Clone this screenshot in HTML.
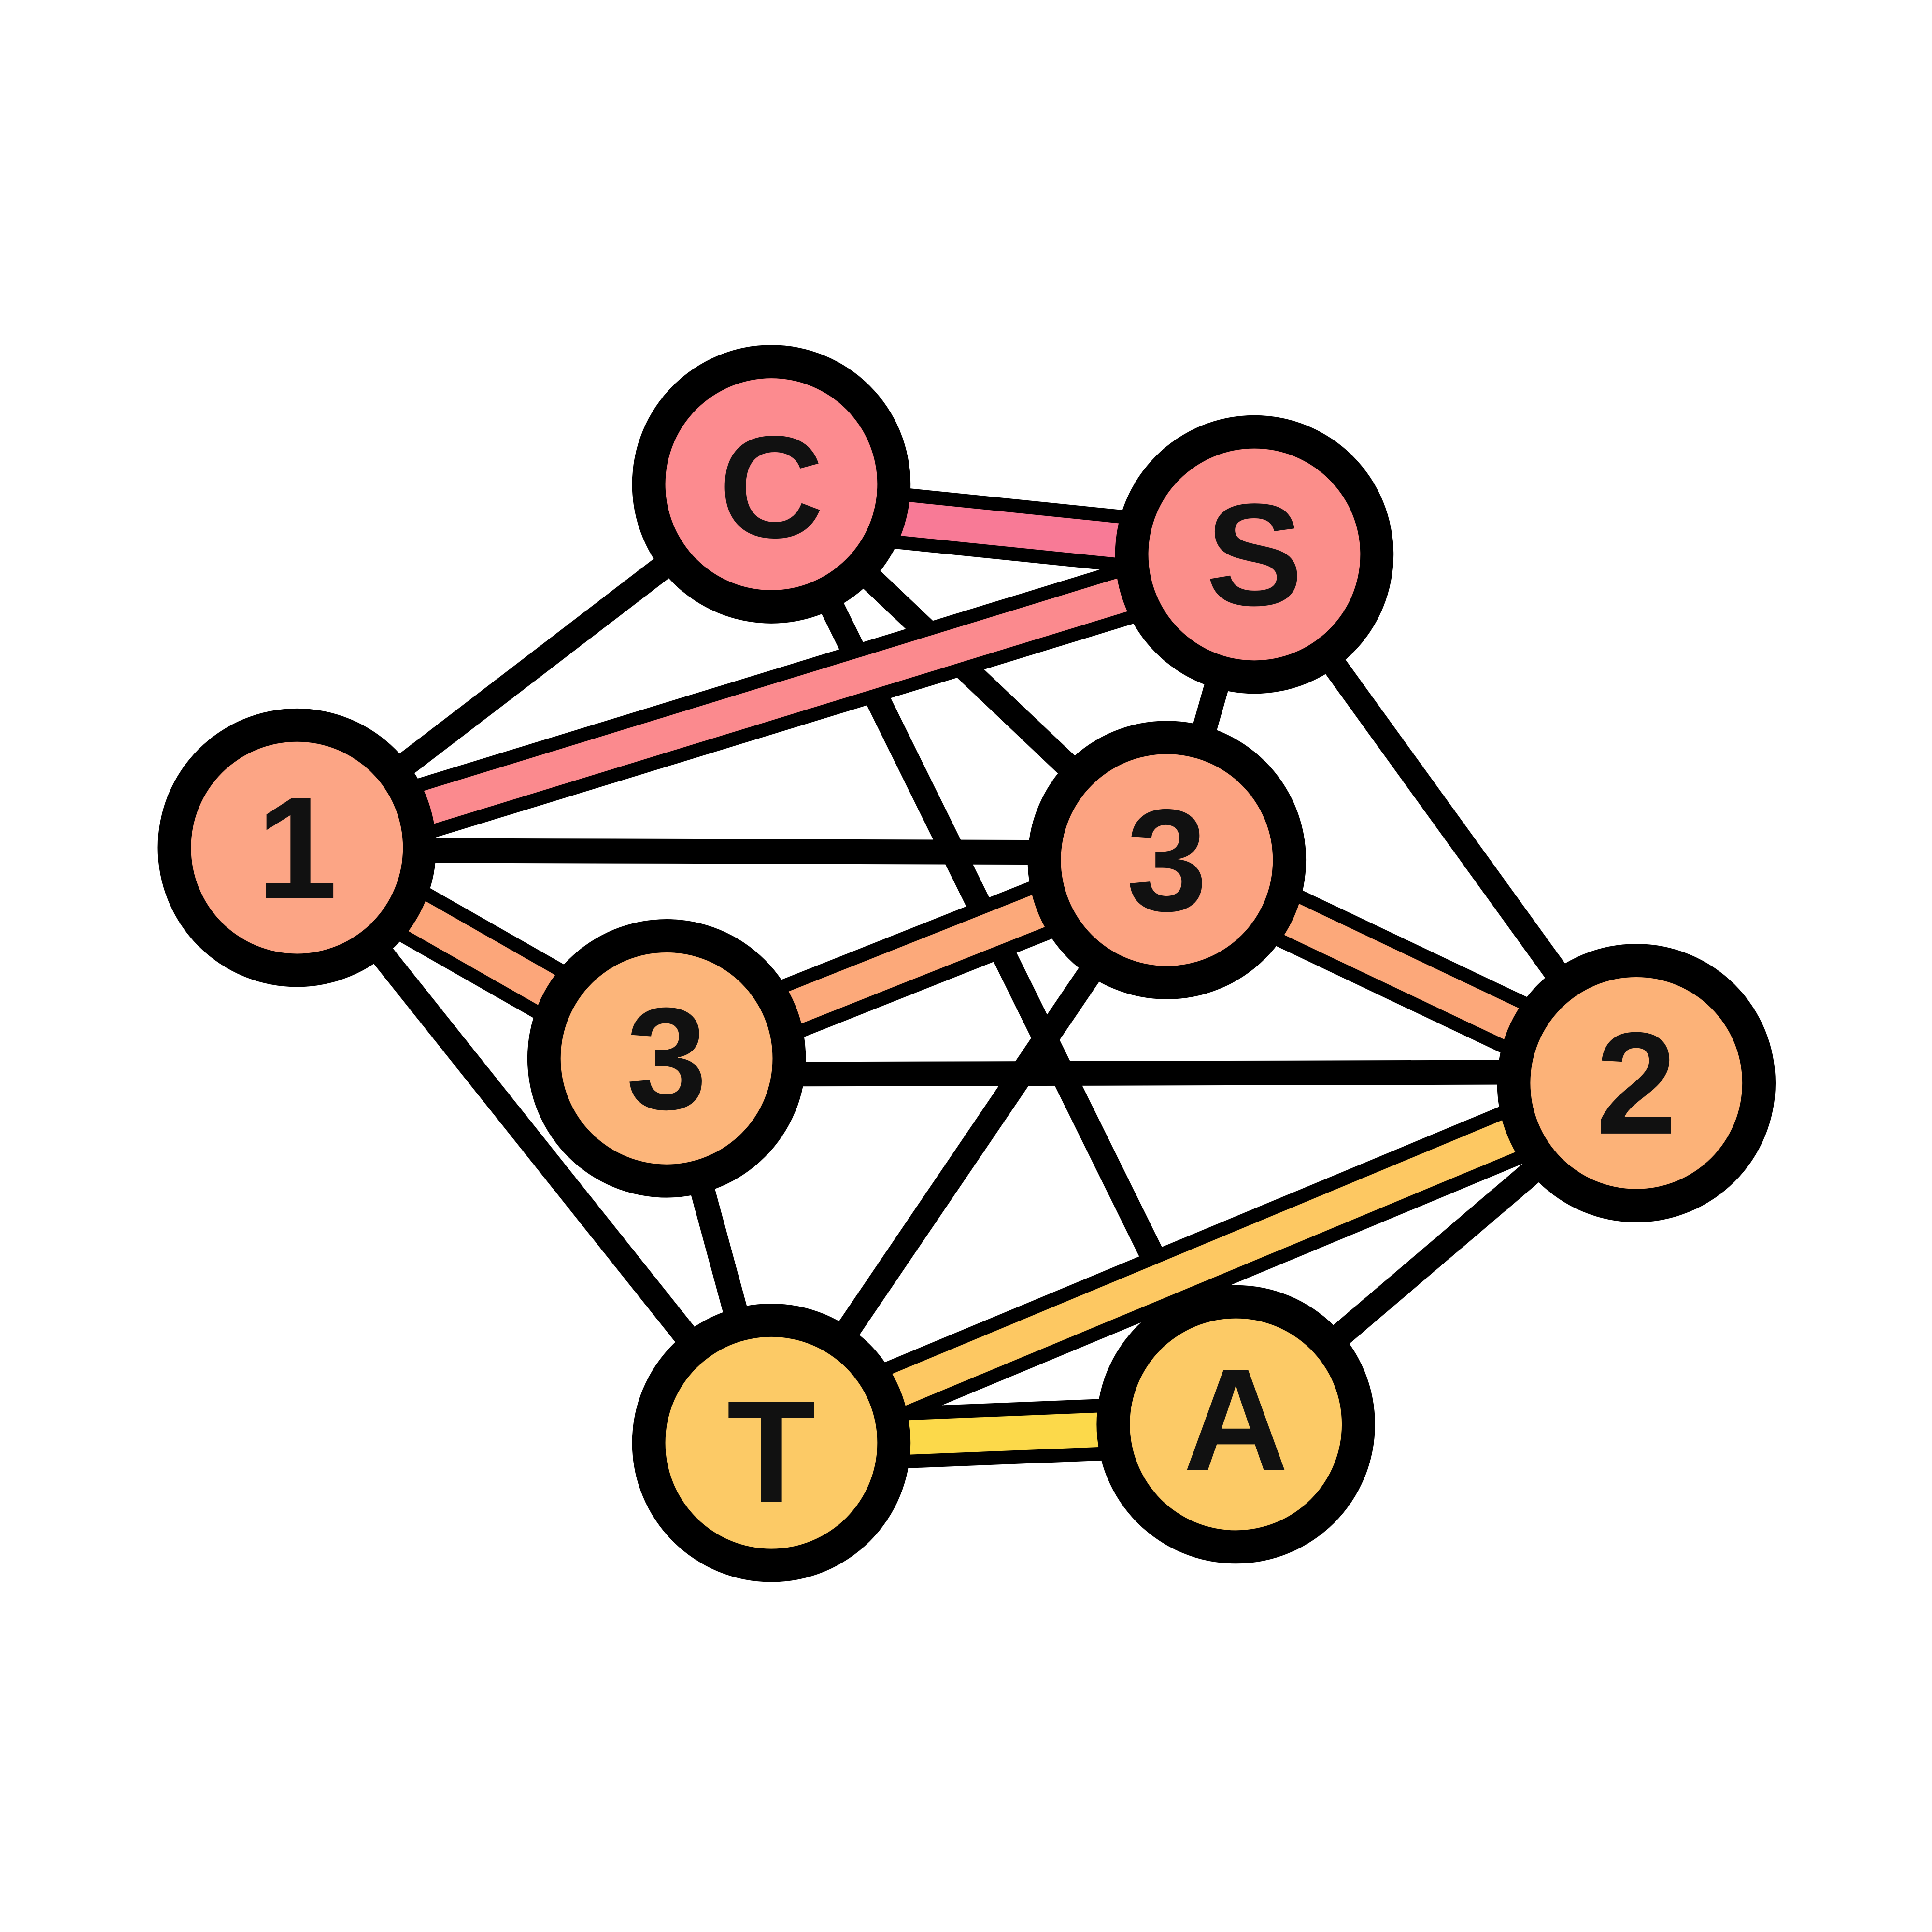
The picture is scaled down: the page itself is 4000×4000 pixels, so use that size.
<!DOCTYPE html>
<html><head><meta charset="utf-8"><style>
html,body{margin:0;padding:0;background:#fff;}
svg{display:block;}
text{font-family:"Liberation Sans",sans-serif;font-size:118px;font-weight:bold;fill:#111;text-anchor:middle;dominant-baseline:central;}
</style></head><body>
<svg width="4000" height="4000" viewBox="0 0 1568 1568" xmlns="http://www.w3.org/2000/svg">
<rect width="1568" height="1568" fill="#fff"/>
<g stroke="#000" stroke-width="20" stroke-linecap="butt">
<line x1="626" y1="393" x2="241" y2="688"/>
<line x1="626" y1="393" x2="947" y2="698"/>
<line x1="626" y1="393" x2="1003" y2="1156"/>
<line x1="1018" y1="450" x2="947" y2="698"/>
<line x1="1018" y1="450" x2="1328" y2="879"/>
<line x1="241" y1="690" x2="947" y2="692"/>
<line x1="241" y1="688" x2="626" y2="1171"/>
<line x1="541" y1="872" x2="1328" y2="870"/>
<line x1="541" y1="859" x2="626" y2="1171"/>
<line x1="947" y1="698" x2="626" y2="1171"/>
<line x1="1328" y1="879" x2="1003" y2="1156"/>
</g>
<g stroke-linecap="butt">
<g stroke="#000" stroke-width="50">
<line x1="626" y1="410" x2="1018" y2="450"/>
<line x1="241" y1="688" x2="1018" y2="450"/>
<line x1="241" y1="688" x2="541" y2="859"/>
<line x1="541" y1="859" x2="947" y2="698"/>
<line x1="947" y1="698" x2="1328" y2="879"/>
<line x1="626" y1="1171" x2="1328" y2="879"/>
<line x1="626" y1="1171" x2="1003" y2="1156"/>
</g>
<line x1="626" y1="410" x2="1018" y2="450" stroke="#f87a96" stroke-width="28"/>
<line x1="241" y1="688" x2="1018" y2="450" stroke="#fb8a8e" stroke-width="28"/>
<line x1="241" y1="688" x2="541" y2="859" stroke="#fca67a" stroke-width="28"/>
<line x1="541" y1="859" x2="947" y2="698" stroke="#fca97a" stroke-width="28"/>
<line x1="947" y1="698" x2="1328" y2="879" stroke="#fca87a" stroke-width="28"/>
<line x1="626" y1="1171" x2="1328" y2="879" stroke="#fdc862" stroke-width="28"/>
<line x1="626" y1="1171" x2="1003" y2="1156" stroke="#fcd94a" stroke-width="28"/>
</g>
<g>
<circle cx="626" cy="393" r="113"/><circle cx="626" cy="393" r="86" fill="#fc8b8f"/>
<circle cx="1018" cy="450" r="113"/><circle cx="1018" cy="450" r="86" fill="#fb8e8a"/>
<circle cx="241" cy="688" r="113"/><circle cx="241" cy="688" r="86" fill="#fca585"/>
<circle cx="947" cy="698" r="113"/><circle cx="947" cy="698" r="86" fill="#fca381"/>
<circle cx="541" cy="859" r="113"/><circle cx="541" cy="859" r="86" fill="#fcb57a"/>
<circle cx="1328" cy="879" r="113"/><circle cx="1328" cy="879" r="86" fill="#fcb278"/>
<circle cx="626" cy="1171" r="113"/><circle cx="626" cy="1171" r="86" fill="#fcca66"/>
<circle cx="1003" cy="1156" r="113"/><circle cx="1003" cy="1156" r="86" fill="#fcca66"/>
</g>
<text x="626" y="395">C</text>
<text x="1018" y="450">S</text>
<text x="241" y="688">1</text>
<text x="947" y="698">3</text>
<text x="541" y="859">3</text>
<text x="1328" y="879">2</text>
<text x="626" y="1178">T</text>
<text x="1003" y="1152">A</text>
</svg>
</body></html>
